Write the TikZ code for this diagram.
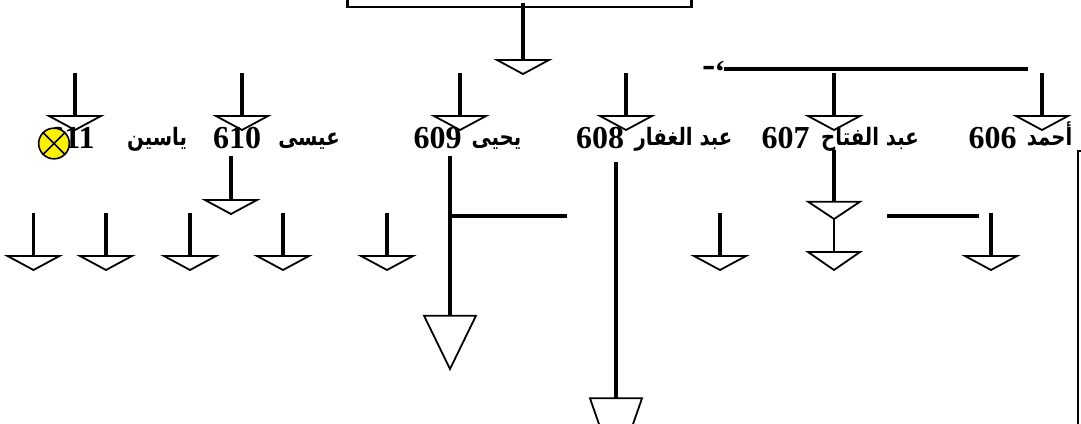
\documentclass[tikz,border=0pt]{standalone}
\usepackage{fontspec}
\setmainfont{Liberation Serif}
\newfontfamily\arabicfont[Script=Arabic, FakeStretch=0.82]{DejaVu Sans}
\TeXXeTstate=1
\usetikzlibrary{shapes.geometric, positioning}
\tikzstyle{drop} = [isosceles triangle, isosceles triangle stretches, shape border rotate=270, anchor=apex, minimum width=39pt, minimum height=10.5pt, inner sep=0pt, outer sep=0pt, draw=black, line width=1.35pt]
\tikzstyle{stem} = [line width=2.4pt]
\tikzstyle{bar} = [line width=3.4pt]
\tikzstyle{num} = [anchor=base, inner sep=0pt, font=\fontsize{24}{24}\selectfont\bfseries]
\tikzstyle{word} = [anchor=base, inner sep=0pt, font=\fontsize{18}{20}\arabicfont\bfseries]
\begin{document}
\begin{tikzpicture}[x=0.75pt, y=-0.75pt]
            \useasboundingbox (0,0) rectangle (1081,424);
            \clip (0,0) rectangle (1081,424);
            % Frames
            \node[draw=black, line width=2.2pt, minimum width=258pt, minimum height=40pt, inner sep=0pt, anchor=south west] (titlebox) at (346,8.5) {};
            \node[draw=black, line width=1.8pt, minimum width=5pt, minimum height=230pt, inner sep=0pt, anchor=north west] (sidebox) at (1076.5,150) {};

            % Names row
            \node[num] (n606) at (992.5,149) {606};
            \node[word] (w606) at (1049.5,146) {\beginR أحمد\endR};
            \node[num] (n607) at (785.5,149) {607};
            \node[word] (w607) at (870,146) {\beginR عبد الفتاح\endR};
            \node[num] (n608) at (600,149) {608};
            \node[word] (w608) at (683.5,146) {\beginR عبد الغفار\endR};
            \node[num] (n609) at (437.5,149) {609};
            \node[word] (w609) at (496.5,146) {\beginR يحيى\endR};
            \node[num] (n610) at (237,149) {610};
            \node[word] (w610) at (309,146) {\beginR عيسى\endR};
            \node[num] (n611) at (71.5,149) {611};
            \node[word] (w611) at (157,146) {\beginR ياسين\endR};
            \node[circle, draw=black, fill=yellow, line width=1.2pt, minimum size=23pt, inner sep=0pt] (mark) at (54,143.5) {};
            \draw[line width=1.2pt] (mark.north west) -- (mark.south east);
            \draw[line width=1.2pt] (mark.north east) -- (mark.south west);

            % Top bar
            \node[inner sep=0pt, font=\fontsize{30}{30}\selectfont\bfseries] (dash) at (709,72) {-};
            \node[inner sep=0pt, font=\fontsize{24}{24}\selectfont\bfseries] (tick) at (720,72) {‘};
            \coordinate (barl) at (724,69);
            \coordinate (barr) at (1028,69);
            \draw[bar] (barl) -- (barr);

            % Arrow under the title
            \coordinate (s0) at (523,3);
            \node[drop] (t0) at (523,74) {};
            \draw[stem] (s0) -- (t0.lower side);

            % Arrows over the names
            \coordinate (s1) at (1042,73);
            \node[drop] (t1) at (1042,130) {};
            \coordinate (s2) at (834,73);
            \node[drop] (t2) at (834,130) {};
            \coordinate (s3) at (626,73);
            \node[drop] (t3) at (626,130) {};
            \coordinate (s4) at (460,73);
            \node[drop] (t4) at (460,130) {};
            \coordinate (s5) at (242,73);
            \node[drop] (t5) at (242,130) {};
            \coordinate (s6) at (75,73);
            \node[drop] (t6) at (75,130) {};
            \draw[stem] (s1) -- (t1.lower side);
            \draw[stem] (s2) -- (t2.lower side);
            \draw[stem] (s3) -- (t3.lower side);
            \draw[stem] (s4) -- (t4.lower side);
            \draw[stem] (s5) -- (t5.lower side);
            \draw[stem] (s6) -- (t6.lower side);

            % Arrows under the names
            \coordinate (s7) at (231,156);
            \node[drop] (t7) at (231,214) {};
            \draw[stem] (s7) -- (t7.lower side);
            \coordinate (s8) at (33.5,213);
            \node[drop] (t8) at (33.5,270) {};
            \coordinate (s9) at (106,213);
            \node[drop] (t9) at (106,270) {};
            \coordinate (s10) at (190,213);
            \node[drop] (t10) at (190,270) {};
            \coordinate (s11) at (283,213);
            \node[drop] (t11) at (283,270) {};
            \coordinate (s12) at (387,213);
            \node[drop] (t12) at (387,270) {};
            \draw[stem] (s8) -- (t8.lower side);
            \draw[stem] (s9) -- (t9.lower side);
            \draw[stem] (s10) -- (t10.lower side);
            \draw[stem] (s11) -- (t11.lower side);
            \draw[stem] (s12) -- (t12.lower side);

            % Long arrows
            \coordinate (s13) at (450,156);
            \node[drop, minimum height=40pt] (t13) at (450,369) {};
            \draw[stem] (s13) -- (t13.lower side);
            \coordinate (b13) at (450,216);
            \coordinate (e13) at (567,216);
            \draw[bar] (b13) -- (e13);
            \coordinate (s14) at (616,162);
            \node[drop, minimum height=56pt] (t14) at (616,473) {};
            \draw[stem] (s14) -- (t14.lower side);

            % Right part of the lower row
            \coordinate (s15) at (720,213);
            \node[drop] (t15) at (720,270) {};
            \draw[stem] (s15) -- (t15.lower side);
            \coordinate (s16) at (834,150);
            \node[drop, minimum height=13pt] (t16) at (834,219) {};
            \node[drop, minimum height=13.5pt] (t17) at (834,270) {};
            \draw[stem] (s16) -- (t16.lower side);
            \draw[line width=1.4pt] (t16.apex) -- (t17.lower side);
            \coordinate (s18) at (991,213);
            \node[drop] (t18) at (991,270) {};
            \draw[stem] (s18) -- (t18.lower side);
            \coordinate (b18) at (887,216);
            \coordinate (e18) at (979,216);
            \draw[bar] (b18) -- (e18);
        \end{tikzpicture}
\end{document}
